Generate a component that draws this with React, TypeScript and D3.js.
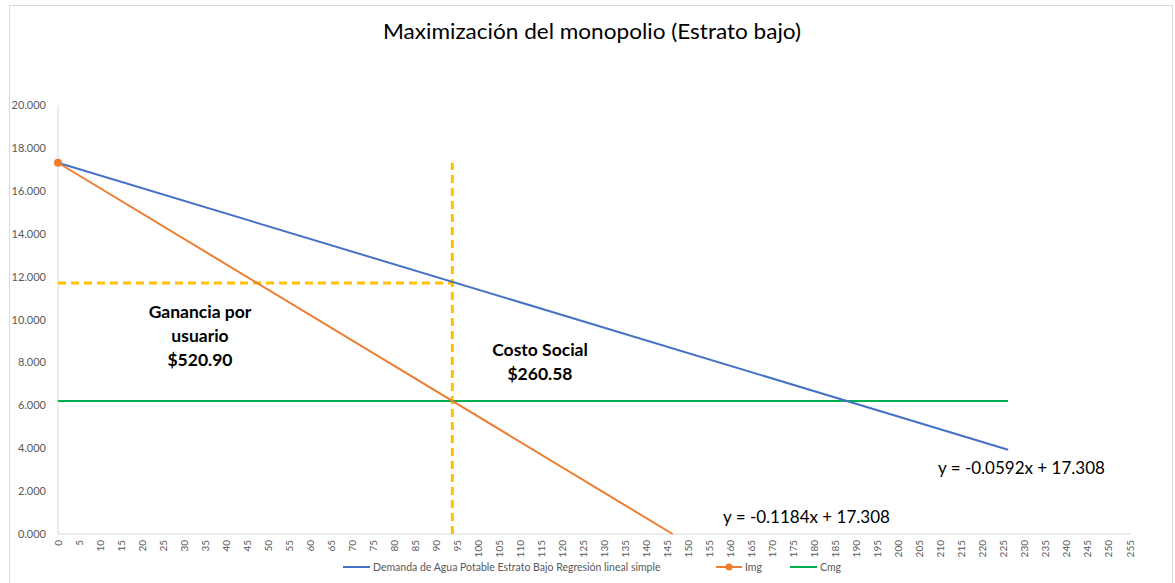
import React from "react";
import * as d3 from "d3";

const title = "Maximización del monopolio (Estrato bajo)";
const demandX = [0, 226];
const demandY = [17.308, 3.93];
const imgX = [0, 146.2];
const imgY = [17.308, 0];
const cmgX = [0, 226];
const cmgY = [6.2, 6.2];
const qMonopoly = 93.8;
const pMonopoly = 11.7;
const yTicks = [0, 2, 4, 6, 8, 10, 12, 14, 16, 18, 20];
const xTicks = d3.range(0, 256, 5);
const legendLabels = [
  "Demanda de Agua Potable Estrato Bajo Regresión lineal simple",
  "Img",
  "Cmg",
];
const eqDemand = "y = -0.0592x + 17.308";
const eqImg = "y = -0.1184x + 17.308";
const gananciaLines = ["Ganancia por", "usuario", "$520.90"];
const costoLines = ["Costo Social", "$260.58"];

const W = 1175;
const H = 583;
const FONT = "Lato, 'Open Sans', sans-serif";

export default function App() {
  const x = d3.scaleLinear().domain([0, 255]).range([58, 1130]);
  const y = d3.scaleLinear().domain([0, 20]).range([534, 105]);
  const line = d3
    .line<[number, number]>()
    .x((d) => x(d[0]))
    .y((d) => y(d[1]));
  const zip = (a: number[], b: number[]) =>
    a.map((v, i) => [v, b[i]] as [number, number]);

  const colors = ["#4472C4", "#ED7D31", "#00B050"];

  return (
    <svg
      width={W}
      height={H}
      style={{ position: "absolute", left: 0, top: 0, background: "#fff" }}
      fontFamily={FONT}
    >
      <rect x={9.5} y={5.5} width={1163} height={600} fill="#fff" stroke="#d9d9d9" strokeWidth={1} />
      <text x={592} y={39} textAnchor="middle" fontSize={21} fill="#000" textLength={418} lengthAdjust="spacingAndGlyphs">
        {title}
      </text>

      {/* axes */}
      <line x1={x(0)} x2={x(0)} y1={y(20)} y2={y(0)} stroke="#d9d9d9" strokeWidth={1} />
      <line x1={x(0)} x2={x(255)} y1={y(0)} y2={y(0)} stroke="#d9d9d9" strokeWidth={1} />

      {yTicks.map((t) => (
        <text key={t} x={46} y={y(t) + 4} textAnchor="end" fontSize={11} fill="#595959">
          {d3.format(".3f")(t)}
        </text>
      ))}
      {xTicks.map((t) => (
        <text
          key={t}
          transform={`translate(${x(t) + 3.5},${540}) rotate(-90)`}
          textAnchor="end"
          fontSize={10}
          fill="#595959"
        >
          {t}
        </text>
      ))}

      {/* dashed guides */}
      <line x1={x(0)} x2={x(qMonopoly)} y1={y(pMonopoly)} y2={y(pMonopoly)} stroke="#FFC000" strokeWidth={3} strokeDasharray="8,5" />
      <line x1={x(qMonopoly)} x2={x(qMonopoly)} y1={y(0)} y2={y(17.308)} stroke="#FFC000" strokeWidth={3} strokeDasharray="8,5" />

      {/* series */}
      <path d={line(zip(cmgX, cmgY)) || ""} fill="none" stroke={colors[2]} strokeWidth={2} />
      <path d={line(zip(demandX, demandY)) || ""} fill="none" stroke={colors[0]} strokeWidth={2} />
      <path d={line(zip(imgX, imgY)) || ""} fill="none" stroke={colors[1]} strokeWidth={2} />
      <circle cx={x(imgX[0])} cy={y(imgY[0])} r={4} fill={colors[1]} />

      {/* equations */}
      <text x={938} y={474} fontSize={17} fill="#000">{eqDemand}</text>
      <text x={723} y={523} fontSize={17} fill="#000">{eqImg}</text>

      {/* annotations */}
      {gananciaLines.map((s, i) => (
        <text key={s} x={200} y={318 + i * 24} textAnchor="middle" fontSize={17.5} fontWeight="bold" fill="#000">
          {s}
        </text>
      ))}
      {costoLines.map((s, i) => (
        <text key={s} x={540} y={356 + i * 24} textAnchor="middle" fontSize={17.5} fontWeight="bold" fill="#000">
          {s}
        </text>
      ))}

      {/* legend */}
      <g fontSize={10.5} fill="#595959">
        <line x1={343} x2={370} y1={567} y2={567} stroke={colors[0]} strokeWidth={2} />
        <text x={373} y={571}>{legendLabels[0]}</text>
        <line x1={716} x2={742} y1={567} y2={567} stroke={colors[1]} strokeWidth={2} />
        <circle cx={729} cy={567} r={3.5} fill={colors[1]} />
        <text x={745} y={571}>{legendLabels[1]}</text>
        <line x1={790} x2={817} y1={567} y2={567} stroke={colors[2]} strokeWidth={2} />
        <text x={820} y={571}>{legendLabels[2]}</text>
      </g>
    </svg>
  );
}
